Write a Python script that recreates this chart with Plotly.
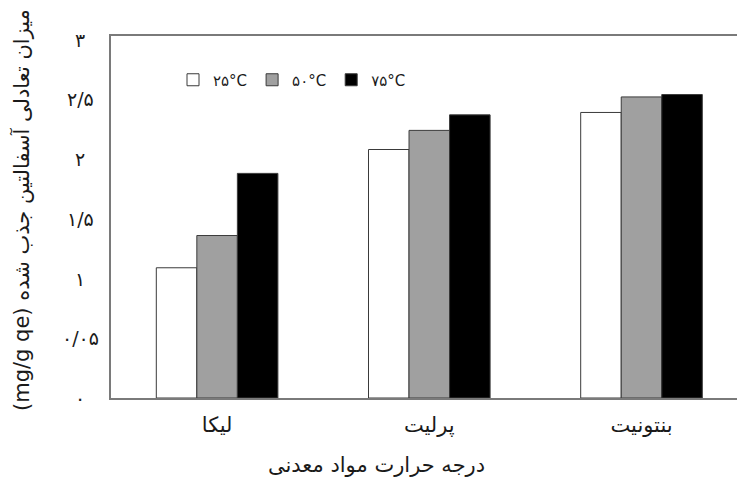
import plotly.graph_objects as go

# ---- data ----
categories = ["لیکا", "پرلیت", "بنتونیت"]
series_names = ["۲۵°C", "۵۰°C", "۷۵°C"]
values_25 = [1.09, 2.08, 2.39]
values_50 = [1.36, 2.24, 2.52]
values_75 = [1.88, 2.37, 2.54]
y_tick_vals = [0, 0.5, 1, 1.5, 2, 2.5, 3]
y_tick_text = ["۰", "۰/۰۵", "۱", "۱/۵", "۲", "۲/۵", "۳"]
x_title = "درجه حرارت مواد معدنی"
y_title = "(mg/g qe) میزان تعادلی آسفالتین جذب شده"

FONT = "DejaVu Sans"
fills = ["#ffffff", "#a0a0a0", "#000000"]
all_values = [values_25, values_50, values_75]

fig = go.Figure()
for name, vals, col in zip(series_names, all_values, fills):
    fig.add_trace(go.Bar(
        x=list(range(len(categories))), y=vals, name=name,
        marker=dict(color=col, line=dict(color="#3a3a3a", width=1)),
    ))

W, H = 737, 481
ml, mt, mb, mr = 111, 36, 83, 0
pw = W - ml - mr
ph = H - mt - mb

def px_to_paper_x(px):
    return (px - ml) / pw

def py_to_paper_y(py):
    return (H - mb - py) / ph

annotations = []
for v, t in zip(y_tick_vals, y_tick_text):
    annotations.append(dict(
        x=px_to_paper_x(80), xref="paper", y=v, yref="y",
        text=t, showarrow=False, xanchor="center", yanchor="middle",
        font=dict(family=FONT, size=19, color="#1a1a1a"),
    ))
annotations.append(dict(
    x=px_to_paper_x(376), xref="paper", y=py_to_paper_y(465), yref="paper",
    text=x_title, showarrow=False, xanchor="center", yanchor="middle",
    font=dict(family=FONT, size=21, color="#1a1a1a"),
))
annotations.append(dict(
    x=px_to_paper_x(21), xref="paper", y=py_to_paper_y(210), yref="paper",
    text=y_title, showarrow=False, xanchor="center", yanchor="middle",
    textangle=-90, font=dict(family=FONT, size=21, color="#1a1a1a"),
))

fig.update_layout(
    width=W, height=H,
    margin=dict(l=ml, r=mr, t=mt, b=mb, pad=0),
    paper_bgcolor="white", plot_bgcolor="white",
    barmode="group", bargap=0.427, bargroupgap=0,
    showlegend=True,
    legend=dict(
        orientation="h", x=px_to_paper_x(173), xanchor="left",
        y=py_to_paper_y(80), yanchor="middle",
        font=dict(family=FONT, size=15, color="#1a1a1a"),
        bgcolor="rgba(0,0,0,0)", traceorder="normal",
    ),
    xaxis=dict(
        range=[-0.5, (W - ml) / 212.2 - 0.5],
        tickvals=list(range(len(categories))), ticktext=categories,
        showline=True, linecolor="#7a7a7a", linewidth=1.5, mirror=True,
        showgrid=False, zeroline=False, ticks="", ticklabelstandoff=7,
        tickfont=dict(family=FONT, size=21, color="#1a1a1a"),
    ),
    yaxis=dict(
        range=[0, 3.03], tickvals=y_tick_vals, showticklabels=False,
        showline=True, linecolor="#7a7a7a", linewidth=1.5,
        showgrid=False, zeroline=False, ticks="",
    ),
    annotations=annotations,
)

fig.write_html(
    "out.html",
    config={"displayModeBar": False},
    post_script="document.body.style.margin='0';document.body.style.overflow='hidden';",
)
